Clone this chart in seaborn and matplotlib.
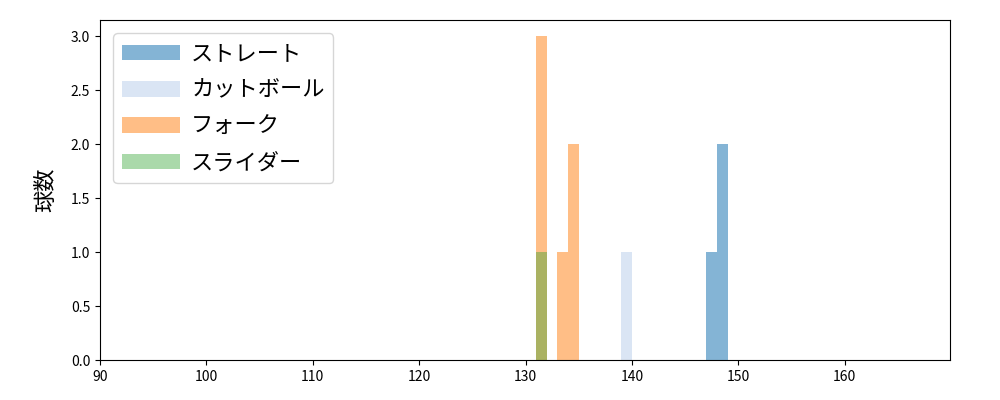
import numpy as np
import matplotlib
matplotlib.use('Agg')
import matplotlib.pyplot as plt
import seaborn as sns

# pitch speeds (km/h) per pitch type
straight = [147.5, 148.3, 148.6]
cutball = [139.4]
fork = [131.2, 131.5, 131.7, 133.6, 134.2, 134.8]
slider = [131.4]

labels = ['ストレート', 'カットボール', 'フォーク', 'スライダー']
colors = ['#1f77b4', '#aec7e8', '#ff7f0e', '#2ca02c']
alphas = [0.55, 0.45, 0.5, 0.4]

plt.rcParams['font.family'] = ['Noto Sans CJK JP', 'DejaVu Sans']

fig, ax = plt.subplots(figsize=(10, 4), dpi=100)
bins = np.arange(90, 171, 1)
for vals, lab, col, a in zip([straight, cutball, fork, slider], labels, colors, alphas):
    sns.histplot(x=vals, bins=bins, color=col, alpha=a, edgecolor='none',
                 linewidth=0, label=lab, ax=ax)

ax.set_xlim(90, 169.9)
ax.set_ylim(0, 3.15)
ax.set_yticks(np.arange(0, 3.01, 0.5))
ax.set_ylabel('球数', fontsize=16, labelpad=10)
ax.set_xlabel('')
ax.legend(loc='upper left', fontsize=16, handlelength=2.6, labelspacing=0.6,
          handletextpad=0.5, borderaxespad=0.6)
plt.subplots_adjust(left=0.1, right=0.95, top=0.95, bottom=0.1)
plt.savefig('out.png')
